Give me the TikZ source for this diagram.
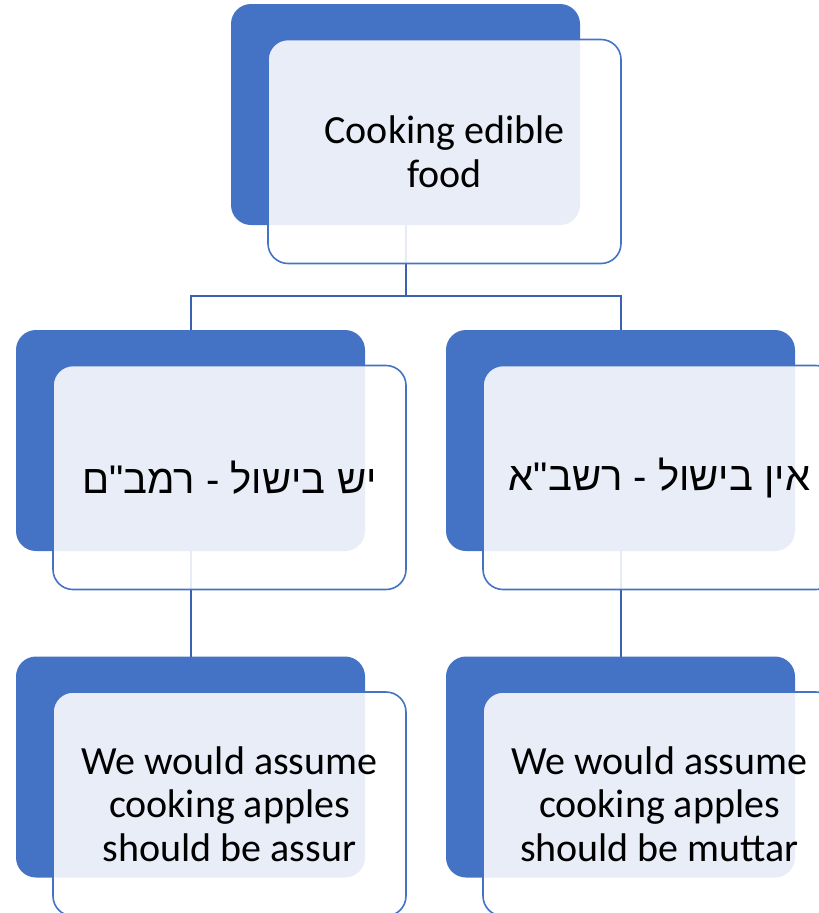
\documentclass[tikz,border=0pt]{standalone}
\usepackage{fontspec}
\setmainfont{Carlito}
\newfontfamily\hebfont[Script=Hebrew]{Liberation Sans}
\TeXXeTstate=1
\definecolor{accent}{HTML}{4472C4}
\definecolor{conn}{HTML}{3B62AE}
\begin{document}
\begin{tikzpicture}[x=1pt,y=-1pt,
  back/.style={fill=accent, rounded corners=20pt, minimum width=349pt, minimum height=221pt, inner sep=0pt, outer sep=0pt},
  front/.style={draw=accent, line width=1.6pt, fill=white, fill opacity=0.88, text opacity=1, rounded corners=20pt, minimum width=353pt, minimum height=224pt, inner sep=0pt, align=center, font=\fontsize{40}{43.5}\selectfont},
  link/.style={draw=conn, line width=2pt}]
\useasboundingbox (0,0) rectangle (819,913);
\clip (0,0) rectangle (819,913);
% back boxes
\node[back] (topB) at (405.5,114.5) {};
\node[back] (mlB) at (190.5,440.5) {};
\node[back] (mrB) at (620.5,440.5) {};
\node[back] (blB) at (190.5,767) {};
\node[back] (brB) at (620.5,767) {};
% connectors
\draw[link] (topB.south) -- ++(0,71) coordinate (j);
\draw[link] (j) -| (mlB.north);
\draw[link] (j) -| (mrB.north);
\draw[link] (mlB.south) -- (blB.north);
\draw[link] (mrB.south) -- (brB.north);
% front boxes
\node[front] (topF) at (444.5,151.5) {Cooking edible\\food};
\node[front] (mlF) at (229.5,477.5) {{\hebfont\beginR יש בישול - רמב"ם\endR}};
\node[front] (mrF) at (659.5,477.5) {{\hebfont\beginR אין בישול - רשב"א\endR}};
\node[front] (blF) at (229.5,804) {We would assume\\cooking apples\\should be assur};
\node[front] (brF) at (659.5,804) {We would assume\\cooking apples\\should be muttar};
\end{tikzpicture}
\end{document}
